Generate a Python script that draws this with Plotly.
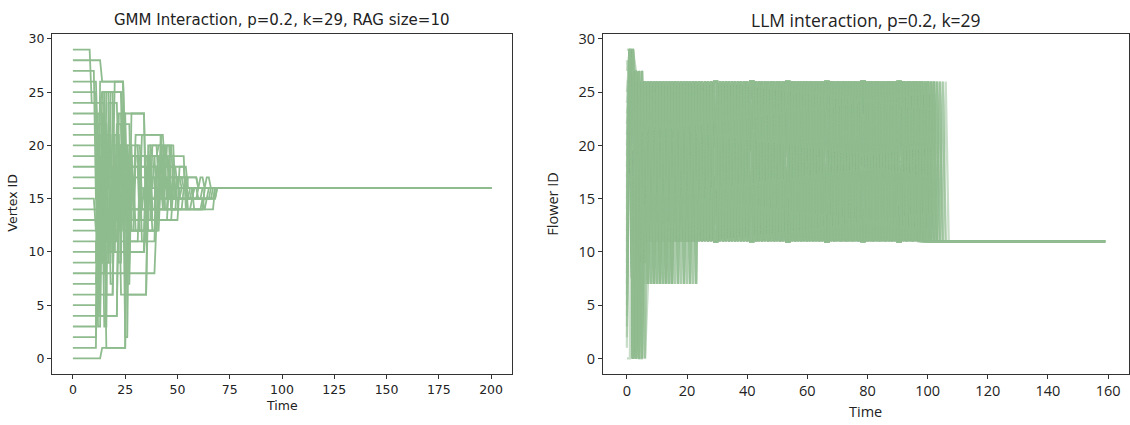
import plotly.graph_objects as go

# ---------------- data ----------------
# Left panel (GMM): each vertex trajectory as change points (time, vertex id); value is held between changes
GMM_T_END = 200
gmm_change_times = [
    [0, 14, 26, 30, 41, 52],
    [0, 12, 15, 20, 27, 34, 48, 58],
    [0, 12, 16, 19, 35, 42, 47, 63],
    [0, 12, 14, 18, 20, 27, 33, 40, 45, 60],
    [0, 13, 15, 22, 24, 30, 38, 50, 55, 66],
    [0, 12, 22, 25, 27, 32, 40, 46, 57],
    [0, 13, 16, 20, 26, 36, 42, 65],
    [0, 12, 16, 26, 29, 37, 44, 53],
    [0, 13, 25, 36, 48, 53],
    [0, 12, 15, 40, 48, 55, 62],
    [0, 13, 18, 35, 44, 47],
    [0, 12, 20, 23, 35, 42, 44, 51, 54, 69],
    [0, 13, 16, 18, 21, 24, 41, 45, 48],
    [0, 12, 14, 17, 20, 35, 40, 51, 58, 62, 67],
    [0, 13, 16, 22, 24, 26, 33, 43, 49],
    [0, 11, 15, 17, 21, 28, 35, 37, 46, 49, 56],
    [0, 12, 14, 19, 25, 35, 40, 45],
    [0, 13, 22, 27, 30, 43, 61, 63, 64, 66],
    [0, 12, 15, 22, 27, 32, 38, 46, 60],
    [0, 13, 19, 23, 36, 38, 41, 45, 47, 49, 58],
    [0, 12, 15, 17, 20, 24, 28, 38, 41, 50, 55, 64, 68],
    [0, 13, 15, 24, 26, 28, 32, 40, 47, 63],
    [0, 12, 14, 17, 23, 26, 28, 36, 46],
    [0, 12, 14, 19, 22, 26, 28, 35, 42, 44, 50],
    [0, 12, 16, 21, 26, 30, 36, 42, 52],
    [0, 12, 14, 24, 27, 33, 36, 39, 46],
    [0, 12, 15, 20, 25, 29, 37, 43, 55, 60],
    [0, 11, 15, 18, 20, 24, 30, 32, 44, 54, 57, 63, 68],
    [0, 14, 25, 27, 33, 38, 41, 55],
    [0, 9, 14, 16, 21, 24, 28, 30, 40, 47, 60, 69],
]
gmm_change_values = [
    [0, 1, 17, 12, 15, 16],
    [1, 23, 12, 19, 14, 16, 15, 16],
    [2, 8, 21, 10, 13, 18, 14, 16],
    [3, 19, 9, 25, 15, 20, 15, 17, 15, 16],
    [4, 15, 11, 23, 16, 19, 14, 17, 15, 16],
    [5, 4, 17, 2, 18, 12, 17, 15, 16],
    [6, 24, 6, 16, 12, 19, 15, 16],
    [7, 13, 1, 20, 13, 20, 14, 16],
    [8, 26, 6, 15, 17, 16],
    [9, 20, 8, 13, 16, 15, 16],
    [10, 14, 10, 18, 20, 16],
    [11, 6, 21, 11, 15, 19, 14, 18, 15, 16],
    [12, 8, 25, 13, 22, 12, 16, 20, 16],
    [13, 10, 22, 16, 10, 17, 13, 16, 14, 15, 16],
    [14, 21, 17, 9, 23, 14, 21, 15, 16],
    [15, 12, 19, 10, 18, 12, 19, 14, 19, 15, 16],
    [16, 5, 20, 14, 23, 11, 18, 16],
    [17, 4, 20, 15, 21, 16, 17, 16, 17, 16],
    [18, 22, 13, 17, 11, 18, 13, 17, 16],
    [19, 9, 18, 6, 20, 19, 20, 18, 20, 15, 16],
    [20, 16, 3, 24, 12, 19, 13, 20, 16, 17, 14, 15, 16],
    [21, 11, 25, 22, 9, 19, 14, 18, 14, 16],
    [22, 3, 17, 12, 20, 7, 18, 14, 16],
    [23, 17, 10, 24, 16, 10, 23, 15, 21, 18, 16],
    [24, 18, 11, 20, 16, 17, 12, 17, 16],
    [25, 12, 25, 13, 19, 11, 16, 19, 16],
    [26, 20, 15, 26, 19, 14, 17, 14, 17, 16],
    [27, 15, 21, 7, 20, 13, 20, 14, 19, 14, 15, 14, 16],
    [28, 26, 18, 13, 16, 12, 18, 16],
    [29, 24, 25, 11, 16, 22, 12, 19, 15, 16, 15, 16],
]

# Right panel (LLM): flower id per time step t = 0..159, one character per step,
# base-36 digit code: '0'-'9' -> 0-9, 'a' -> 10, 'b' -> 11, 'q' -> 26, 'r' -> 27, 't' -> 29
llm_paths = [
    "00tr0q9q7q" "7q7q7q7q7q" "7q7qbqbqbq" "qbqbqbqbqb" "qbbqbqbqbq" "bqbqqbqbqb" "qbqbqbqqbq" "bqbqbqbqbb" "qbqbqbqbqb" "qqbqbqbqbq" "bqbqbqbbbb" "bbbbbbbbbb" "bbbbbbbbbb" "bbbbbbbbbb" "bbbbbbbbbb" "bbbbbbbbbb",
    "1t0r0r9q7q" "7q7q7qbqbq" "bqbqbqbqbq" "qbqbqbqbqb" "qbbqbqbqbq" "bqbqqbqbqb" "qbqbqbqqbq" "bqbqbqbqbb" "qbqbqbqbqb" "qqbqbqbqbq" "bqbbbbbbbb" "bbbbbbbbbb" "bbbbbbbbbb" "bbbbbbbbbb" "bbbbbbbbbb" "bbbbbbbbbb",
    "2tt0q99q7q" "7q7q7q7q7q" "7q7qbqbqbq" "bqbqbqbqbq" "bqbqbqbqbq" "bqbqbqbqbq" "bqbqbqbqbq" "bqbqbqbqbq" "bqbqbqbqbq" "bqbqbqbqbq" "bqbqbbbbbb" "bbbbbbbbbb" "bbbbbbbbbb" "bbbbbbbbbb" "bbbbbbbbbb" "bbbbbbbbbb",
    "3t0q0r0qbq" "bqbqbqbqbq" "bqbqbqbqbq" "qbqbqbqbqb" "qbbqbqbqbq" "bqbqqbqbqb" "qbqbqbqqbq" "bqbqbqbqbb" "qbqbqbqbqb" "qqbqbqbqbb" "bbbbbbbbbb" "bbbbbbbbbb" "bbbbbbbbbb" "bbbbbbbbbb" "bbbbbbbbbb" "bbbbbbbbbb",
    "4qt0r9qbqb" "qbqbqbqbqb" "qbqbqbqbqb" "bqbqbqbqbq" "bqqbqbqbqb" "qbqbbqbqbq" "bqbqbqbbqb" "qbqbqbqbqq" "bqbqbqbqbq" "bbqbqbqbqb" "qbqbqbqbbb" "bbbbbbbbbb" "bbbbbbbbbb" "bbbbbbbbbb" "bbbbbbbbbb" "bbbbbbbbbb",
    "5t0rq0q7q7" "q7q7q7q7q7" "q7q7qbqbqb" "bqbqbqbqbq" "bqqbqbqbqb" "qbqbbqbqbq" "bqbqbqbbqb" "qbqbqbqbqq" "bqbqbqbqbq" "bbqbqbqbqb" "qbqbbbbbbb" "bbbbbbbbbb" "bbbbbbbbbb" "bbbbbbbbbb" "bbbbbbbbbb" "bbbbbbbbbb",
    "6tqr00qbqb" "qbqbqbqbqb" "qbqbqbqbqb" "qbqbqbqbqb" "qbqbqbqbqb" "qbqbqbqbqb" "qbqbqbqbqb" "qbqbqbqbqb" "qbqbqbqbqb" "qbqbqbqbqb" "qbqbqbbbbb" "bbbbbbbbbb" "bbbbbbbbbb" "bbbbbbbbbb" "bbbbbbbbbb" "bbbbbbbbbb",
    "7t0q0r9qbq" "bqbqbqbqbq" "bqbqbqbqbq" "bqbqbqbqbq" "bqbqbqbqbq" "bqbqbqbqbq" "bqbqbqbqbq" "bqbqbqbqbq" "bqbqbqbqbq" "bqbqbqbqbq" "bbbbbbbbbb" "bbbbbbbbbb" "bbbbbbbbbb" "bbbbbbbbbb" "bbbbbbbbbb" "bbbbbbbbbb",
    "8qt0r0qbqb" "qbqbqbqbqb" "qbqbqbqbqb" "bqbqbqbqbq" "bqqbqbqbqb" "qbqbbqbqbq" "bqbqbqbbqb" "qbqbqbqbqq" "bqbqbqbqbq" "bbqbqbqbqb" "qbbbbbbbbb" "bbbbbbbbbb" "bbbbbbbbbb" "bbbbbbbbbb" "bbbbbbbbbb" "bbbbbbbbbb",
    "9t0r9qbqbq" "bqbqbqbqbq" "bqbqbqbqbq" "bqbqbqbqbq" "bqbqbqbqbq" "bqbqbqbqbq" "bqbqbqbqbq" "bqbqbqbqbq" "bqbqbqbqbq" "bqbqbqbqbq" "bqbbbbbbbb" "bbbbbbbbbb" "bbbbbbbbbb" "bbbbbbbbbb" "bbbbbbbbbb" "bbbbbbbbbb",
    "at0q09q7q7" "q7q7q7qbqb" "qbqbqbqbqb" "bqbqbqbqbq" "bqqbqbqbqb" "qbqbbqbqbq" "bqbqbqbbqb" "qbqbqbqbqq" "bqbqbqbqbq" "bbqbqbqbqb" "bbbbbbbbbb" "bbbbbbbbbb" "bbbbbbbbbb" "bbbbbbbbbb" "bbbbbbbbbb" "bbbbbbbbbb",
    "bqt0r0qbqb" "qbqbqbqbqb" "qbqbqbqbqb" "bqbqbqbqbq" "bqqbqbqbqb" "qbqbbqbqbq" "bqbqbqbbqb" "qbqbqbqbqq" "bqbqbqbqbq" "bbqbqbqbqb" "qbqbbbbbbb" "bbbbbbbbbb" "bbbbbbbbbb" "bbbbbbbbbb" "bbbbbbbbbb" "bbbbbbbbbb",
    "ct0r9q07q7" "q7q7q7q7q7" "q7q7qbqbqb" "qbqbqbqbqb" "qbqbqbqbqb" "qbqbqbqbqb" "qbqbqbqbqb" "qbqbqbqbqb" "qbqbqbqbqb" "qbqbqbqbqb" "qbqbbbbbbb" "bbbbbbbbbb" "bbbbbbbbbb" "bbbbbbbbbb" "bbbbbbbbbb" "bbbbbbbbbb",
    "dqtq0r9qbq" "bqbqbqbqbq" "bqbqbqbqbq" "qbqbqbqbqb" "qbbqbqbqbq" "bqbqqbqbqb" "qbqbqbqqbq" "bqbqbqbqbb" "qbqbqbqbqb" "qqbqbqbqbq" "bqbqbbbbbb" "bbbbbbbbbb" "bbbbbbbbbb" "bbbbbbbbbb" "bbbbbbbbbb" "bbbbbbbbbb",
    "et0q9r0qbq" "bqbqbqbqbq" "bqbqbqbqbq" "qbqbqbqbqb" "qbbqbqbqbq" "bqbqqbqbqb" "qbqbqbqqbq" "bqbqbqbqbb" "qbqbqbqbqb" "qqbqbqbqbq" "bqbbbbbbbb" "bbbbbbbbbb" "bbbbbbbbbb" "bbbbbbbbbb" "bbbbbbbbbb" "bbbbbbbbbb",
    "ftt0q9qbqb" "qbqbqbqbqb" "qbqbqbqbqb" "bqbqbqbqbq" "bqqbqbqbqb" "qbqbbqbqbq" "bqbqbqbbqb" "qbqbqbqbqq" "bqbqbqbqbq" "bbqbqbqbbb" "bbbbbbbbbb" "bbbbbbbbbb" "bbbbbbbbbb" "bbbbbbbbbb" "bbbbbbbbbb" "bbbbbbbbbb",
    "gt0r99q7q7" "q7q7q7qbqb" "qbqbqbqbqb" "bqbqbqbqbq" "bqqbqbqbqb" "qbqbbqbqbq" "bqbqbqbbqb" "qbqbqbqbqq" "bqbqbqbqbq" "bbqbqbqbqb" "qbbbbbbbbb" "bbbbbbbbbb" "bbbbbbbbbb" "bbbbbbbbbb" "bbbbbbbbbb" "bbbbbbbbbb",
    "hqt0q9qbqb" "qbqbqbqbqb" "qbqbqbqbqb" "qbqbqbqbqb" "qbqbqbqbqb" "qbqbqbqbqb" "qbqbqbqbqb" "qbqbqbqbqb" "qbqbqbqbqb" "qbqbqbqbqb" "bbbbbbbbbb" "bbbbbbbbbb" "bbbbbbbbbb" "bbbbbbbbbb" "bbbbbbbbbb" "bbbbbbbbbb",
    "it0rq0q7q7" "q7q7q7q7q7" "q7q7qbqbqb" "bqbqbqbqbq" "bqqbqbqbqb" "qbqbbqbqbq" "bqbqbqbbqb" "qbqbqbqbqq" "bqbqbqbqbq" "bbqbqbqbqb" "qbqbqbbbbb" "bbbbbbbbbb" "bbbbbbbbbb" "bbbbbbbbbb" "bbbbbbbbbb" "bbbbbbbbbb",
    "jtq0r9qbqb" "qbqbqbqbqb" "qbqbqbqbqb" "qbqbqbqbqb" "qbqbqbqbqb" "qbqbqbqbqb" "qbqbqbqbqb" "qbqbqbqbqb" "qbqbqbqbqb" "qbqbqbqbqb" "bbbbbbbbbb" "bbbbbbbbbb" "bbbbbbbbbb" "bbbbbbbbbb" "bbbbbbbbbb" "bbbbbbbbbb",
    "kt0r9qbqbq" "bqbqbqbqbq" "bqbqbqbqbq" "qbqbqbqbqb" "qbbqbqbqbq" "bqbqqbqbqb" "qbqbqbqqbq" "bqbqbqbqbb" "qbqbqbqbqb" "qqbqbqbqbq" "bbbbbbbbbb" "bbbbbbbbbb" "bbbbbbbbbb" "bbbbbbbbbb" "bbbbbbbbbb" "bbbbbbbbbb",
    "lqt0r0q7q7" "q7q7q7qbqb" "qbqbqbqbqb" "bqbqbqbqbq" "bqqbqbqbqb" "qbqbbqbqbq" "bqbqbqbbqb" "qbqbqbqbqq" "bqbqbqbqbq" "bbqbqbqbqb" "qbqbbbbbbb" "bbbbbbbbbb" "bbbbbbbbbb" "bbbbbbbbbb" "bbbbbbbbbb" "bbbbbbbbbb",
    "mt0q9rbqbq" "bqbqbqbqbq" "bqbqbqbqbq" "bqbqbqbqbq" "bqbqbqbqbq" "bqbqbqbqbq" "bqbqbqbqbq" "bqbqbqbqbq" "bqbqbqbqbq" "bqbqbqbqbb" "bbbbbbbbbb" "bbbbbbbbbb" "bbbbbbbbbb" "bbbbbbbbbb" "bbbbbbbbbb" "bbbbbbbbbb",
    "nqt0r9qbqb" "qbqbqbqbqb" "qbqbqbqbqb" "bqbqbqbqbq" "bqqbqbqbqb" "qbqbbqbqbq" "bqbqbqbbqb" "qbqbqbqbqq" "bqbqbqbqbq" "bbqbqbqbqb" "qbbbbbbbbb" "bbbbbbbbbb" "bbbbbbbbbb" "bbbbbbbbbb" "bbbbbbbbbb" "bbbbbbbbbb",
    "ot0r9qbqbq" "bqbqbqbqbq" "bqbqbqbqbq" "qbqbqbqbqb" "qbbqbqbqbq" "bqbqqbqbqb" "qbqbqbqqbq" "bqbqbqbqbb" "qbqbqbqbqb" "qqbqbqbqbb" "bbbbbbbbbb" "bbbbbbbbbb" "bbbbbbbbbb" "bbbbbbbbbb" "bbbbbbbbbb" "bbbbbbbbbb",
    "pt0q0r7q7q" "7q7q7qbqbq" "bqbqbqbqbq" "qbqbqbqbqb" "qbbqbqbqbq" "bqbqqbqbqb" "qbqbqbqqbq" "bqbqbqbqbb" "qbqbqbqbqb" "qqbqbqbqbq" "bqbqbqbbbb" "bbbbbbbbbb" "bbbbbbbbbb" "bbbbbbbbbb" "bbbbbbbbbb" "bbbbbbbbbb",
    "qqt0q9qbqb" "qbqbqbqbqb" "qbqbqbqbqb" "bqbqbqbqbq" "bqqbqbqbqb" "qbqbbqbqbq" "bqbqbqbbqb" "qbqbqbqbqq" "bqbqbqbqbq" "bbqbqbqbbb" "bbbbbbbbbb" "bbbbbbbbbb" "bbbbbbbbbb" "bbbbbbbbbb" "bbbbbbbbbb" "bbbbbbbbbb",
    "rt0rq9qbqb" "qbqbqbqbqb" "qbqbqbqbqb" "qbqbqbqbqb" "qbqbqbqbqb" "qbqbqbqbqb" "qbqbqbqbqb" "qbqbqbqbqb" "qbqbqbqbqb" "qbqbqbqbqb" "qbbbbbbbbb" "bbbbbbbbbb" "bbbbbbbbbb" "bbbbbbbbbb" "bbbbbbbbbb" "bbbbbbbbbb",
    "sqt0r9q7q7" "q7q7q7q7q7" "q7q7qbqbqb" "bqbqbqbqbq" "bqqbqbqbqb" "qbqbbqbqbq" "bqbqbqbbqb" "qbqbqbqbqq" "bqbqbqbqbq" "bbqbqbqbqb" "bbbbbbbbbb" "bbbbbbbbbb" "bbbbbbbbbb" "bbbbbbbbbb" "bbbbbbbbbb" "bbbbbbbbbb",
    "tt0r09qbqb" "qbqbqbqbqb" "qbqbqbqbqb" "bqbqbqbqbq" "bqqbqbqbqb" "qbqbbqbqbq" "bqbqbqbbqb" "qbqbqbqbqq" "bqbqbqbqbq" "bbqbqbqbqb" "qbbbbbbbbb" "bbbbbbbbbb" "bbbbbbbbbb" "bbbbbbbbbb" "bbbbbbbbbb" "bbbbbbbbbb",
]

gmm_xticks = [0, 25, 50, 75, 100, 125, 150, 175, 200]
llm_xticks = [0, 20, 40, 60, 80, 100, 120, 140, 160]
id_yticks = [0, 5, 10, 15, 20, 25, 30]

gmm_title = "GMM Interaction, p=0.2, k=29, RAG size=10"
llm_title = "LLM interaction, p=0.2, k=29"

# ---------------- figure ----------------
W, H = 1130, 425
GREEN = "rgb(143,188,143)"
GREEN_A = "rgba(143,188,143,0.5)"
LEFT_FONT = "DejaVu Sans"
RIGHT_FONT = "Open Sans"


def px(x):
    return x / W


def py(y):
    return 1 - y / H


fig = go.Figure()

for times, vals in zip(gmm_change_times, gmm_change_values):
    xs, ys = [], []
    k, cur = 0, vals[0]
    for t in range(GMM_T_END + 1):
        while k < len(times) and times[k] <= t:
            cur = vals[k]
            k += 1
        xs.append(t)
        ys.append(cur)
    fig.add_trace(go.Scatter(x=xs, y=ys, mode="lines", xaxis="x", yaxis="y",
                             line=dict(color=GREEN, width=1.8),
                             showlegend=False, hoverinfo="skip"))

for path in llm_paths:
    ys = [int(c, 36) for c in path]
    xs = list(range(len(ys)))
    fig.add_trace(go.Scatter(x=xs, y=ys, mode="lines", xaxis="x2", yaxis="y2",
                             line=dict(color=GREEN_A, width=2.3),
                             showlegend=False, hoverinfo="skip"))

box_top, box_bot = 29.5, 373.3
common = dict(showline=True, mirror=True, linecolor="#333", linewidth=1,
              ticks="outside", ticklen=4, tickcolor="#333", tickwidth=1,
              showgrid=False, zeroline=False)

fig.update_layout(
    width=W, height=H, autosize=False,
    margin=dict(l=0, r=0, t=0, b=0),
    paper_bgcolor="white", plot_bgcolor="white",
    xaxis=dict(domain=[px(52), px(512)], range=[-10, 210], anchor="y",
               tickvals=gmm_xticks, ticktext=[str(v) for v in gmm_xticks],
               tickfont=dict(family=LEFT_FONT, size=12.5, color="#222"), **common),
    yaxis=dict(domain=[py(box_bot), py(box_top)], range=[-1.45, 30.45], anchor="x",
               tickvals=id_yticks, ticktext=[str(v) for v in id_yticks],
               tickfont=dict(family=LEFT_FONT, size=12.5, color="#222"), **common),
    xaxis2=dict(domain=[px(603), px(1129)], range=[-7.95, 166.95], anchor="y2",
                tickvals=llm_xticks, ticktext=[str(v) for v in llm_xticks],
                tickfont=dict(family=RIGHT_FONT, size=14.5, color="#222"), **common),
    yaxis2=dict(domain=[py(box_bot), py(box_top)], range=[-1.45, 30.45], anchor="x2",
                tickvals=id_yticks, ticktext=[str(v) for v in id_yticks],
                tickfont=dict(family=RIGHT_FONT, size=14.5, color="#222"), **common),
)

annots = [
    dict(text=gmm_title, x=px(282), y=py(15), font=dict(family=LEFT_FONT, size=15, color="#222")),
    dict(text=llm_title, x=px(866), y=py(15), font=dict(family=RIGHT_FONT, size=17.5, color="#222")),
    dict(text="Time", x=px(282), y=py(405), font=dict(family=LEFT_FONT, size=12.5, color="#222")),
    dict(text="Time", x=px(866), y=py(411), font=dict(family=RIGHT_FONT, size=14.5, color="#222")),
    dict(text="Vertex ID", x=px(13), y=py(201), textangle=-90, font=dict(family=LEFT_FONT, size=12.5, color="#222")),
    dict(text="Flower ID", x=px(553), y=py(201), textangle=-90, font=dict(family=RIGHT_FONT, size=14.5, color="#222")),
]
for a in annots:
    fig.add_annotation(xref="paper", yref="paper", xanchor="center", yanchor="middle",
                       showarrow=False, **a)

fig.write_html("out.html")
